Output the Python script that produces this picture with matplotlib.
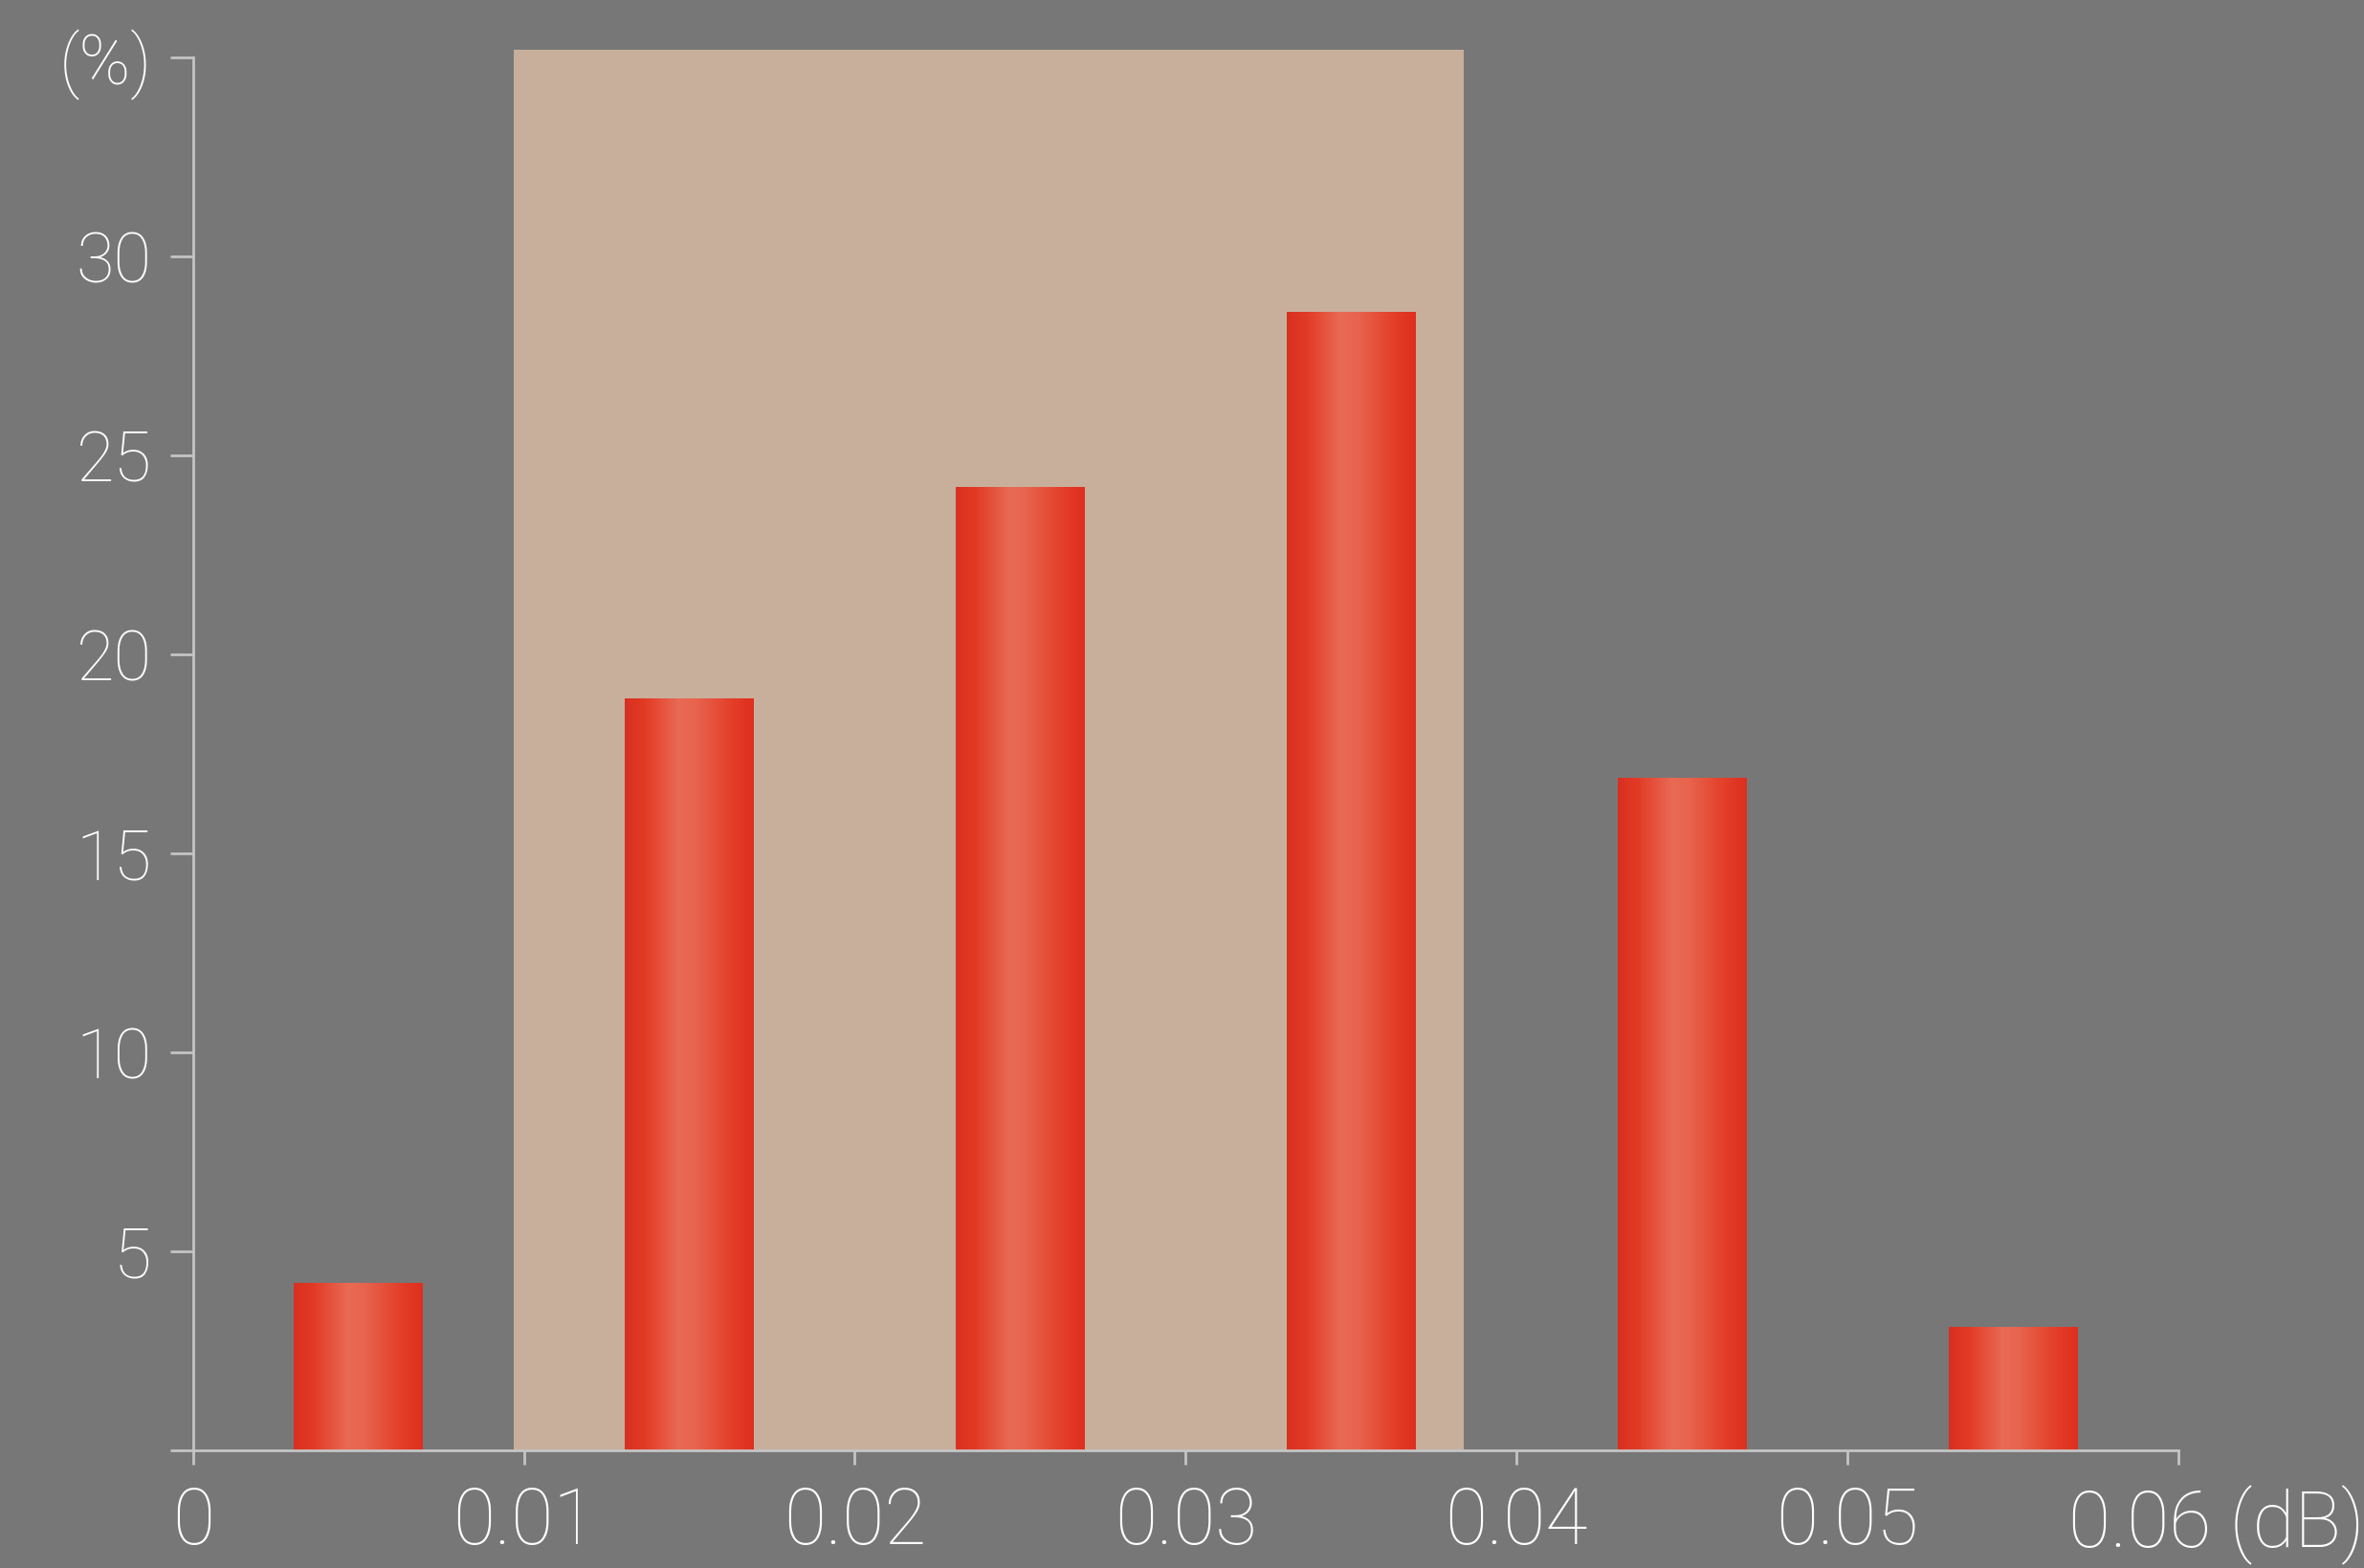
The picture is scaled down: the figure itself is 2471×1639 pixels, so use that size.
import numpy as np
import matplotlib
matplotlib.use("Agg")
import matplotlib.pyplot as plt
from matplotlib.colors import LinearSegmentedColormap
from matplotlib.patches import Rectangle
import matplotlib.transforms as mtransforms

# ---- data ----
bin_centers = [0.005, 0.015, 0.025, 0.035, 0.045, 0.055]
percentages = [4.2, 18.9, 24.2, 28.6, 16.9, 3.1]
bar_width = 0.0039
shade_range = (0.0097, 0.0384)
shade_top = 35.2
x_ticks = [0, 0.01, 0.02, 0.03, 0.04, 0.05, 0.06]
x_labels = ["0", "0.01", "0.02", "0.03", "0.04", "0.05", "0.06 (dB)"]
y_ticks = [0, 5, 10, 15, 20, 25, 30, 35]
y_labels = ["", "5", "10", "15", "20", "25", "30", "(%)"]

BG = "#777777"
SHADE = "#C8AF9C"
AXC = "#C4C4C4"
TXT = "#FFFFFF"

plt.rcParams['font.family'] = ['Roboto', 'DejaVu Sans']

fig = plt.figure(figsize=(24.71, 16.39), dpi=100, facecolor=BG)
ax = fig.add_axes([0.0816, 0.075, 0.8399, 0.8884])
ax.set_facecolor(BG)

ax.add_patch(Rectangle((shade_range[0], 0), shade_range[1] - shade_range[0], shade_top,
                       facecolor=SHADE, edgecolor='none', clip_on=False, zorder=0))

cmap = LinearSegmentedColormap.from_list("bar", [
    (0.0, "#D73020"), (0.15, "#E23A24"), (0.42, "#E96A55"),
    (0.55, "#E8644E"), (0.85, "#E33C26"), (1.0, "#DE2F1E")])
grad = np.linspace(0, 1, 256).reshape(1, -1)

bars = ax.bar(bin_centers, percentages, width=bar_width, facecolor='none',
              edgecolor='none', zorder=2)
for p in bars.patches:
    x0, y0 = p.get_x(), p.get_y()
    im = ax.imshow(grad, extent=[x0, x0 + p.get_width(), y0, y0 + p.get_height()],
                   aspect='auto', cmap=cmap, zorder=2, interpolation='bicubic')
    im.set_clip_path(p)

ax.set_xlim(0, 0.06)
ax.set_ylim(0, 35)

for s in ['top', 'right']:
    ax.spines[s].set_visible(False)
for s in ['left', 'bottom']:
    ax.spines[s].set_color(AXC)
    ax.spines[s].set_linewidth(2)
    ax.spines[s].set_zorder(3)

ax.set_xticks(x_ticks)
ax.set_xticklabels(x_labels)
ax.set_yticks(y_ticks)
ax.set_yticklabels(y_labels)
ax.tick_params(axis='y', direction='out', length=17, width=2, color=AXC,
               labelcolor=TXT, labelsize=52, pad=14)
ax.tick_params(axis='x', direction='out', length=11, width=2, color=AXC,
               labelcolor=TXT, labelsize=58, pad=15)
for lab in ax.get_xticklabels() + ax.get_yticklabels():
    lab.set_fontweight('light')

last = ax.get_xticklabels()[-1]
last.set_transform(last.get_transform() + mtransforms.ScaledTranslation(0.4, 0, fig.dpi_scale_trans))

fig.savefig("out.png", dpi=100, facecolor=BG)
